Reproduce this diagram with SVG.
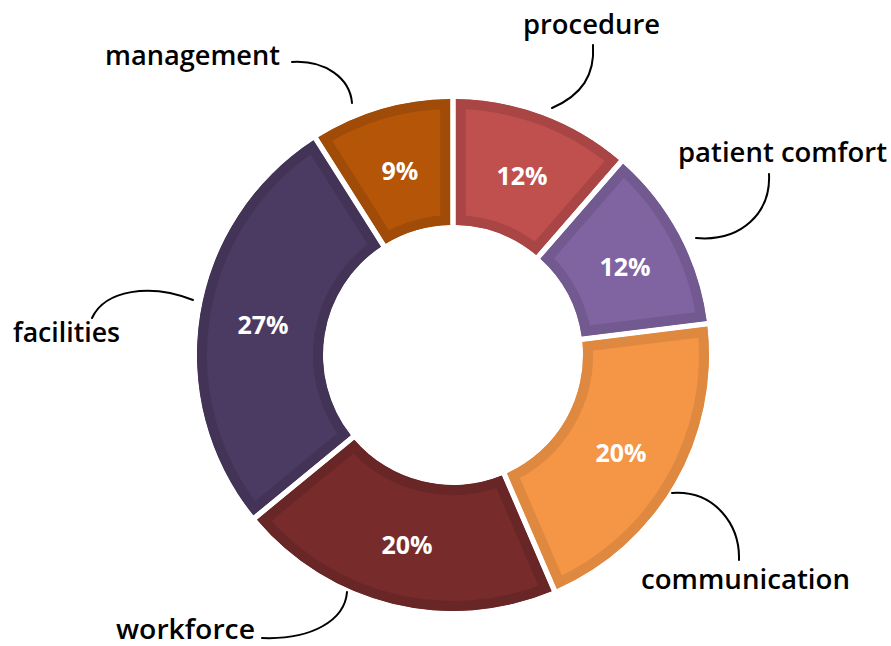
<svg xmlns="http://www.w3.org/2000/svg" xmlns:xlink="http://www.w3.org/1999/xlink" width="891" height="646" viewBox="0 0 891 646">
<style>
.seg{stroke-width:20;stroke-linejoin:miter}
.s1{fill:#C0504D;stroke:#A94645}
.s2{fill:#8064A2;stroke:#725A91}
.s3{fill:#F49646;stroke:#DF8840}
.s4{fill:#772B2B;stroke:#692626}
.s5{fill:#4B3A62;stroke:#433457}
.s6{fill:#B45508;stroke:#A04C08}
.pct{font-family:"Open Sans","Liberation Sans",sans-serif;font-weight:700;font-size:25px;fill:#FFFFFF;text-anchor:middle}
.lbl{font-family:"Open Sans","Liberation Sans",sans-serif;font-weight:600;font-size:27px;fill:#000000}
.lead{fill:none;stroke:#000000;stroke-width:2;stroke-linecap:round}
</style>
<defs>
<path id="p1" d="M455.80,99.02 A256,256 0 0 1 618.83,159.97 L536.16,255.07 A130,130 0 0 0 455.80,225.03 Z"/>
<path id="p2" d="M623.06,163.64 A256,256 0 0 1 706.73,321.02 L581.66,336.38 A130,130 0 0 0 540.38,258.75 Z"/>
<path id="p3" d="M707.42,326.58 A256,256 0 0 1 556.83,589.00 L506.98,473.26 A130,130 0 0 0 582.34,341.94 Z"/>
<path id="p4" d="M551.68,591.22 A256,256 0 0 1 256.97,519.65 L354.35,439.66 A130,130 0 0 0 501.84,475.48 Z"/>
<path id="p5" d="M253.41,515.32 A256,256 0 0 1 313.47,140.37 L380.99,246.76 A130,130 0 0 0 350.79,435.33 Z"/>
<path id="p6" d="M318.20,137.36 A256,256 0 0 1 450.20,99.02 L450.20,225.03 A130,130 0 0 0 385.72,243.76 Z"/>
<clipPath id="c1"><use xlink:href="#p1"/></clipPath>
<clipPath id="c2"><use xlink:href="#p2"/></clipPath>
<clipPath id="c3"><use xlink:href="#p3"/></clipPath>
<clipPath id="c4"><use xlink:href="#p4"/></clipPath>
<clipPath id="c5"><use xlink:href="#p5"/></clipPath>
<clipPath id="c6"><use xlink:href="#p6"/></clipPath>
</defs>
<rect width="891" height="646" fill="#FFFFFF"/>
<g id="connectors">
<path class="lead" d="M292,62 C325,60 350,78 352,103"/>
<path class="lead" d="M593,45 C595,75 582,95 552,108"/>
<path class="lead" d="M769,174 C771,212 742,242 696,238"/>
<path class="lead" d="M92,318 C105,290 150,283 193,300"/>
<path class="lead" d="M262,638 C312,640 345,620 347,592"/>
<path class="lead" d="M672,493 C715,490 740,525 739,560"/>
</g>
<g id="procedure">
<use xlink:href="#p1" class="seg s1" clip-path="url(#c1)"/>
<text class="pct" x="522" y="185">12%</text>
<text class="lbl" x="523" y="34" textLength="137" lengthAdjust="spacingAndGlyphs">procedure</text>
</g>
<g id="patient-comfort">
<use xlink:href="#p2" class="seg s2" clip-path="url(#c2)"/>
<text class="pct" x="625" y="276">12%</text>
<text class="lbl" x="678" y="162" textLength="209" lengthAdjust="spacingAndGlyphs">patient comfort</text>
</g>
<g id="communication">
<use xlink:href="#p3" class="seg s3" clip-path="url(#c3)"/>
<text class="pct" x="621" y="462">20%</text>
<text class="lbl" x="641" y="589" textLength="209" lengthAdjust="spacingAndGlyphs">communication</text>
</g>
<g id="workforce">
<use xlink:href="#p4" class="seg s4" clip-path="url(#c4)"/>
<text class="pct" x="407" y="554">20%</text>
<text class="lbl" x="116" y="639" textLength="139" lengthAdjust="spacingAndGlyphs">workforce</text>
</g>
<g id="facilities">
<use xlink:href="#p5" class="seg s5" clip-path="url(#c5)"/>
<text class="pct" x="263" y="334">27%</text>
<text class="lbl" x="13" y="342" textLength="107" lengthAdjust="spacingAndGlyphs">facilities</text>
</g>
<g id="management">
<use xlink:href="#p6" class="seg s6" clip-path="url(#c6)"/>
<text class="pct" x="400" y="180">9%</text>
<text class="lbl" x="105" y="65" textLength="175" lengthAdjust="spacingAndGlyphs">management</text>
</g>
</svg>
